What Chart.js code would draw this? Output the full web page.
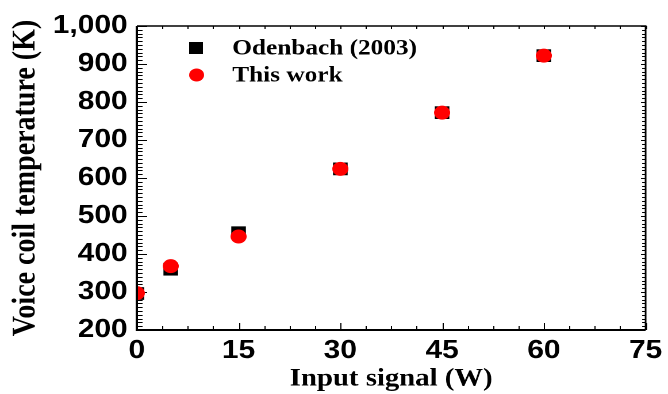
<!DOCTYPE html>
<html>
<head>
<meta charset="utf-8">
<script src="https://cdn.jsdelivr.net/npm/chart.js@4"></script>
<style>
  html, body { margin: 0; padding: 0; background: #fff; overflow: hidden; }
  /* the original figure is stretched sideways, so draw narrow and widen it */
  #wrap { width: 581px; height: 394px; transform: scaleX(1.1497); transform-origin: 0 0; }
</style>
</head>
<body>
<div id="wrap"><canvas id="tempChart"></canvas></div>
<script>
const seriesNames = ['Odenbach (2003)', 'This work'];
const inputPower = [0, 5, 15, 30, 45, 60];
const odenbachTemp = [296, 360, 456, 624, 772, 922];
const thisWorkTemp = [297, 368, 446, 624, 772, 922];
const xTicks = [0, 15, 30, 45, 60, 75];
const yTicks = [200, 300, 400, 500, 600, 700, 800, 900, 1000];
const xMinorStep = 3.75;
const yMinorStep = 10;

const serif = "'Liberation Serif', 'Times New Roman', serif";
const sans = "'Liberation Sans', Arial, sans-serif";

function toPoints(ys) {
  return inputPower.map((x, i) => ({ x: x, y: ys[i] }));
}

// inward ticks on all four sides go under the markers, axis lines over them
const framePlugin = {
  id: 'frame',
  beforeDatasetsDraw(chart) {
    const { ctx, chartArea: a, scales: { x, y } } = chart;
    ctx.save();
    ctx.strokeStyle = '#000';
    ctx.lineWidth = 1;
    ctx.beginPath();
    const ny = Math.round((y.max - y.min) / yMinorStep);
    for (let i = 0; i <= ny; i++) {
      const v = y.min + i * yMinorStep;
      const py = Math.round(y.getPixelForValue(v)) + 0.5;
      const major = yTicks.includes(v);
      ctx.moveTo(a.left, py); ctx.lineTo(a.left + (major ? 9 : 5), py);
      ctx.moveTo(a.right, py); ctx.lineTo(a.right - (major ? 4 : 3), py);
    }
    const nx = Math.round((x.max - x.min) / xMinorStep);
    for (let i = 0; i <= nx; i++) {
      const v = x.min + i * xMinorStep;
      const px = Math.round(x.getPixelForValue(v)) + 0.5;
      const major = xTicks.includes(v);
      ctx.moveTo(px, a.bottom); ctx.lineTo(px, a.bottom - (major ? 7 : 4));
      ctx.moveTo(px, a.top); ctx.lineTo(px, a.top + 3);
    }
    ctx.stroke();
    ctx.restore();
  },
  // markers at x = 0 are cut by the axis
  beforeDatasetDraw(chart) {
    const { ctx, chartArea: a } = chart;
    ctx.save();
    ctx.beginPath();
    ctx.rect(a.left, a.top, a.right - a.left, a.bottom - a.top);
    ctx.clip();
  },
  afterDatasetDraw(chart) {
    chart.ctx.restore();
  },
  afterDatasetsDraw(chart) {
    const { ctx, chartArea: a } = chart;
    ctx.save();
    ctx.strokeStyle = '#000';
    ctx.lineWidth = 1.5;
    ctx.beginPath();
    ctx.moveTo(a.left, a.top); ctx.lineTo(a.right, a.top); ctx.lineTo(a.right, a.bottom);
    ctx.stroke();
    ctx.lineWidth = 2;
    ctx.beginPath();
    ctx.moveTo(a.left, a.top); ctx.lineTo(a.left, a.bottom); ctx.lineTo(a.right, a.bottom);
    ctx.stroke();
    ctx.restore();
  }
};

// legend sits inside the plot, top left
const legendPlugin = {
  id: 'insideLegend',
  afterDraw(chart) {
    const ctx = chart.ctx;
    const rows = [48, 75];
    ctx.save();
    ctx.font = 'bold 22px ' + serif;
    ctx.textBaseline = 'middle';
    chart.data.datasets.forEach((ds, i) => {
      const cy = rows[i];
      ctx.fillStyle = ds.backgroundColor;
      if (ds.pointStyle === 'rect') {
        ctx.fillRect(164.5, cy - 6, 12, 12);
      } else {
        ctx.beginPath();
        ctx.arc(171, cy, 6.5, 0, Math.PI * 2);
        ctx.fill();
      }
      ctx.fillStyle = '#000';
      ctx.fillText(ds.label, 202, cy + 1);
    });
    ctx.restore();
  }
};

const ctx = document.getElementById('tempChart').getContext('2d');
new Chart(ctx, {
  type: 'scatter',
  data: {
    datasets: [{
      label: seriesNames[0],
      data: toPoints(odenbachTemp),
      pointStyle: 'rect',
      pointRadius: 9,
      backgroundColor: '#000000',
      borderColor: '#000000',
      borderWidth: 0,
      order: 2
    }, {
      label: seriesNames[1],
      data: toPoints(thisWorkTemp),
      pointStyle: 'circle',
      pointRadius: 7,
      backgroundColor: '#ff0000',
      borderColor: '#ff0000',
      borderWidth: 0,
      order: 1
    }]
  },
  options: {
    responsive: true,
    maintainAspectRatio: false,
    animation: false,
    devicePixelRatio: 2,
    layout: { padding: { top: 26, right: 16, left: 0, bottom: 0 } },
    plugins: {
      legend: { display: false },
      tooltip: { enabled: false }
    },
    scales: {
      x: {
        type: 'linear',
        min: 0,
        max: 75,
        afterBuildTicks: s => { s.ticks = xTicks.map(v => ({ value: v })); },
        afterFit: s => { s.height = 64; },
        grid: { display: false, drawTicks: false },
        border: { display: false },
        ticks: {
          color: '#000',
          padding: 5,
          maxRotation: 0,
          font: { family: sans, size: 26, weight: 'bold' }
        },
        title: {
          display: true,
          text: 'Input signal (W)',
          color: '#000',
          padding: { top: 0, bottom: 0 },
          font: { family: serif, size: 25, weight: 'bold' }
        }
      },
      y: {
        min: 200,
        max: 1000,
        afterBuildTicks: s => { s.ticks = yTicks.map(v => ({ value: v })); },
        afterFit: s => { s.width = 119; },
        grid: { display: false, drawTicks: false },
        border: { display: false },
        ticks: {
          color: '#000',
          padding: 8,
          font: { family: sans, size: 26, weight: 'bold' },
          callback: v => v.toLocaleString('en-US')
        },
        title: {
          display: true,
          text: 'Voice coil temperature (K)',
          color: '#000',
          padding: { top: 6, bottom: 0 },
          font: { family: serif, size: 28, weight: 'bold' }
        }
      }
    }
  },
  plugins: [framePlugin, legendPlugin]
});
</script>
</body>
</html>
